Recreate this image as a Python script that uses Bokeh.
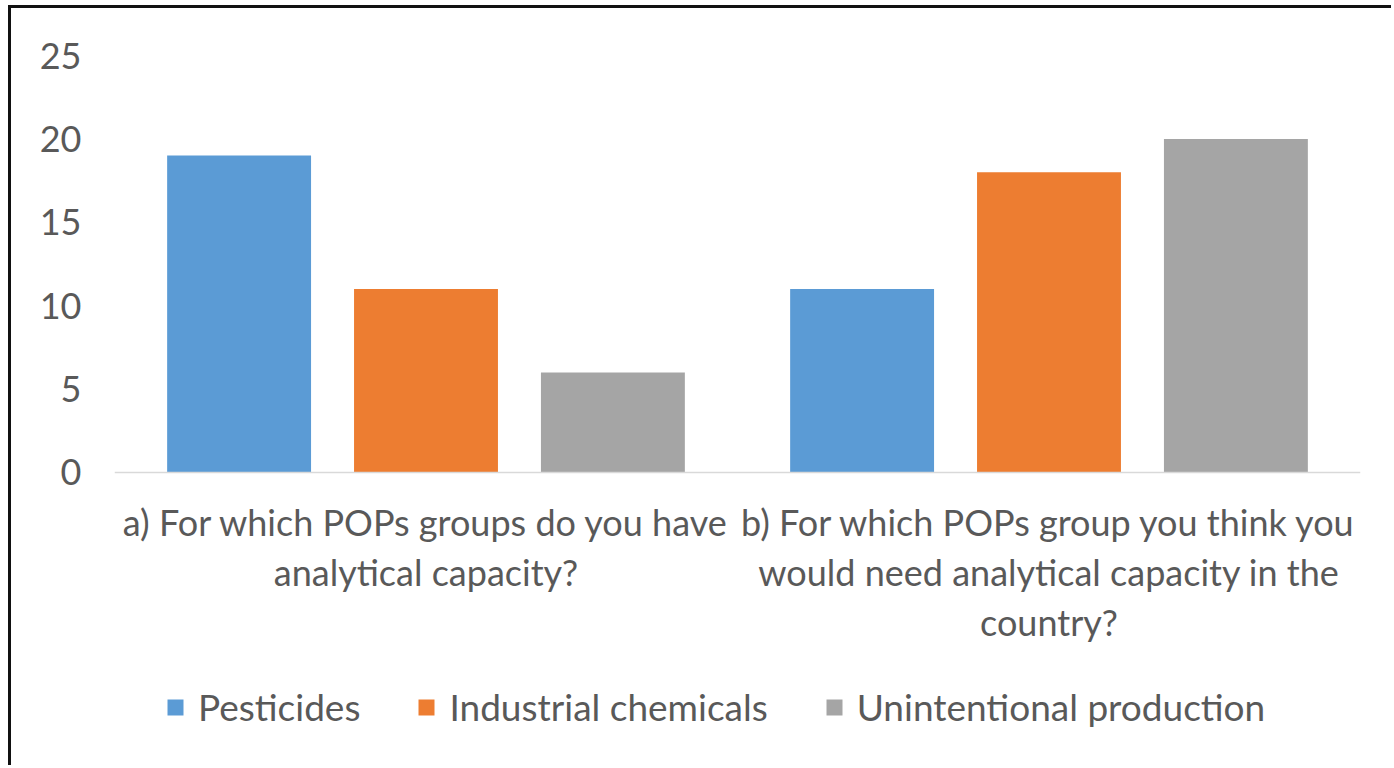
from bokeh.plotting import figure
from bokeh.models import (ColumnDataSource, FactorRange, Range1d, FixedTicker,
                          Legend, LegendItem)
from bokeh.transform import dodge
from bokeh.embed import file_html
from bokeh.resources import INLINE

categories = [
    "a) For which POPs groups do you have\nanalytical capacity?",
    "b) For which POPs group you think you\nwould need analytical capacity in the\ncountry?",
]
series_names = ["Pesticides", "Industrial chemicals", "Unintentional production"]
pesticides = [19, 11]
industrial = [11, 18]
unintentional = [6, 20]
y_ticks = [0, 5, 10, 15, 20, 25]

colors = ["#5B9BD5", "#ED7D31", "#A5A5A5"]
offsets = [-0.3, 0.0, 0.3]
FONT = "Lato"
TXT = "#595959"

source = ColumnDataSource(dict(cat=categories, s0=pesticides, s1=industrial, s2=unintentional))

# frame extends below zero so the category labels and legend live inside it
p = figure(width=1383, height=760, x_range=FactorRange(factors=categories, range_padding=0),
           y_range=Range1d(-17.75, 25), output_backend="svg", toolbar_location=None,
           min_border_left=103, min_border_right=34, min_border_top=47, min_border_bottom=0)
p.styles = {"border-top": "3px solid #111111", "border-left": "3px solid #111111",
            "margin-left": "8px", "margin-top": "5px"}
p.outline_line_color = None
p.background_fill_color = "white"
p.border_fill_color = "white"
p.xgrid.grid_line_color = None
p.ygrid.grid_line_color = None

renderers = []
for i, key in enumerate(["s0", "s1", "s2"]):
    r = p.vbar(x=dodge("cat", offsets[i], range=p.x_range), top=key, width=0.231,
               source=source, fill_color=colors[i], line_color=None)
    renderers.append(r)

p.yaxis.ticker = FixedTicker(ticks=y_ticks)
p.yaxis.axis_line_color = None
p.yaxis.major_tick_line_color = None
p.yaxis.minor_tick_line_color = None
p.yaxis.major_label_text_font = FONT
p.yaxis.major_label_text_font_size = "36px"
p.yaxis.major_label_text_color = TXT
p.yaxis.major_label_standoff = 27

p.xaxis.fixed_location = 0
p.xaxis.axis_line_color = "#D9D9D9"
p.xaxis.axis_line_width = 1.5
p.xaxis.major_tick_line_color = None
p.xaxis.minor_tick_line_color = None
p.xaxis.major_label_text_font = FONT
p.xaxis.major_label_text_font_size = "36px"
p.xaxis.major_label_text_color = TXT
p.xaxis.major_label_standoff = 22
p.xaxis.major_label_text_line_height = 1.13

legend = Legend(items=[LegendItem(label=series_names[i], renderers=[renderers[i]]) for i in range(3)],
                orientation="horizontal", location=(51, 39),
                label_text_font=FONT, label_text_font_size="37px", label_text_color=TXT,
                glyph_width=20, glyph_height=20, label_standoff=13, spacing=56,
                border_line_color=None, background_fill_alpha=0, padding=0, margin=0)
p.add_layout(legend, "center")

open("out.html", "w").write(file_html(p, INLINE))
